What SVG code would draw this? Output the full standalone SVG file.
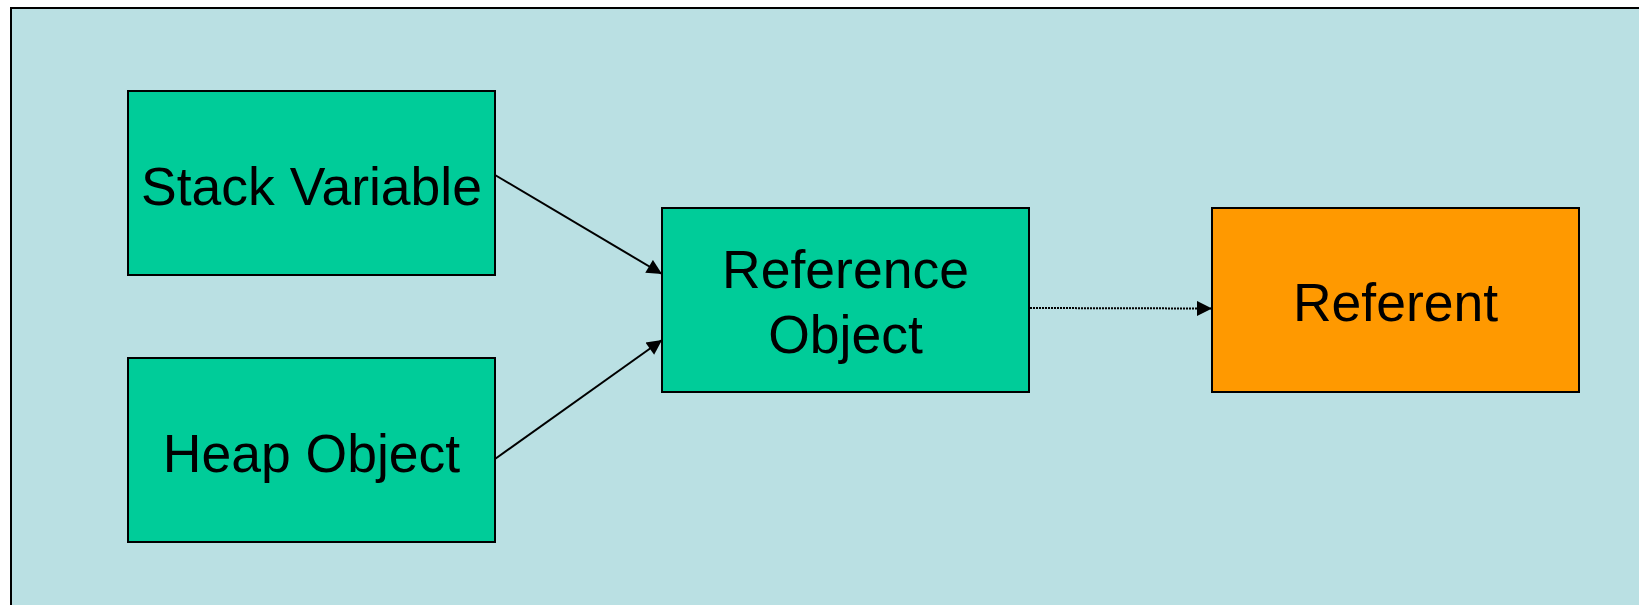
<svg xmlns="http://www.w3.org/2000/svg" width="1639" height="605" viewBox="0 0 1639 605">
  <style>
    .node rect { stroke: #000; stroke-width: 2; }
    .green rect { fill: #00CC99; }
    .orange rect { fill: #FF9900; }
    .node text { font-family: "Liberation Sans", Arial, sans-serif; font-size: 53.5px; fill: #000; text-anchor: middle; }
    .edge { stroke: #000; stroke-width: 2; fill: none; }
    .dotted { stroke-width: 2; stroke-dasharray: 2 1; }
  </style>
  <defs>
    <marker id="arrow" viewBox="0 0 10 10" refX="10" refY="5" markerUnits="userSpaceOnUse" markerWidth="16" markerHeight="15" orient="auto">
      <path d="M0,0 L10,5 L0,10 Z" fill="#000"/>
    </marker>
  </defs>

  <!-- page background and frame -->
  <rect x="0" y="0" width="1639" height="605" fill="#FFFFFF"/>
  <rect x="11" y="8" width="1640" height="610" fill="#BAE0E3" stroke="#000" stroke-width="2"/>

  <!-- connectors -->
  <g id="connectors">
    <line class="edge" x1="495" y1="175" x2="662" y2="274" marker-end="url(#arrow)"/>
    <line class="edge" x1="495" y1="459" x2="662" y2="340" marker-end="url(#arrow)"/>
    <line class="edge dotted" x1="1030" y1="308" x2="1212" y2="308.5" marker-end="url(#arrow)"/>
  </g>

  <g id="stack-variable" class="node green">
    <rect x="128" y="91" width="367" height="184"/>
    <text x="311.5" y="205">Stack Variable</text>
  </g>

  <g id="heap-object" class="node green">
    <rect x="128" y="358" width="367" height="184"/>
    <text x="311.5" y="472">Heap Object</text>
  </g>

  <g id="reference-object" class="node green">
    <rect x="662" y="208" width="367" height="184"/>
    <text x="845.5" y="288">Reference</text>
    <text x="845.5" y="353">Object</text>
  </g>

  <g id="referent" class="node orange">
    <rect x="1212" y="208" width="367" height="184"/>
    <text x="1395.5" y="321">Referent</text>
  </g>
</svg>
